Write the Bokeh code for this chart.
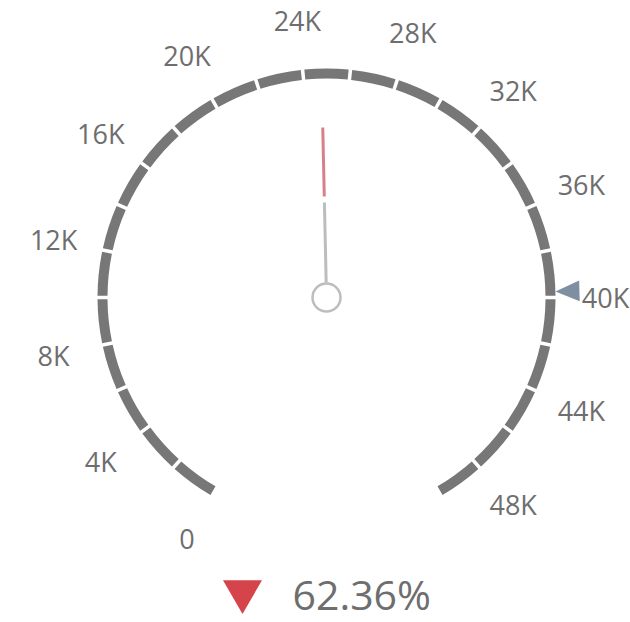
import math
from bokeh.plotting import figure
from bokeh.models import Range1d
from bokeh.core.properties import value as val
from bokeh.embed import file_html
from bokeh.resources import INLINE

# ---- data ----
scale_min = 0
scale_max = 50000
tick_values = [0, 4000, 8000, 12000, 16000, 20000, 24000, 28000, 32000, 36000, 40000, 44000, 48000]
tick_labels = ["0", "4K", "8K", "12K", "16K", "20K", "24K", "28K", "32K", "36K", "40K", "44K", "48K"]
segment_edges = [0, 2000, 4000, 6000, 8000, 10000, 12000, 14000, 16000, 18000, 20000, 22000, 24000,
                 26000, 28000, 30000, 32000, 34000, 36000, 38000, 40000, 42000, 44000, 46000, 48000, 50000]
gauge_value = 24790
target_value = 39750
percent_label = "62.36%"

# ---- geometry / style ----
START_DEG = 240.0
SWEEP_DEG = 300.0
R_IN, R_OUT = 219, 229
LABEL_R = 279
GAP = math.radians(0.9)
FONT = "Open Sans"
TXT = "#6e6e6e"


def ang(v):
    return math.radians(START_DEG - SWEEP_DEG * (v - scale_min) / (scale_max - scale_min))


W, H = 630, 622
CX, CY = 326, 297  # gauge centre in screen px
p = figure(width=W, height=H, output_backend="svg", toolbar_location=None,
           x_axis_type=None, y_axis_type=None, min_border=0,
           x_range=Range1d(-CX, W - CX), y_range=Range1d(CY - H, CY))
p.outline_line_color = None
p.grid.visible = False
p.background_fill_color = "white"

# dashed gauge band
starts, ends = [], []
for v0, v1 in zip(segment_edges[:-1], segment_edges[1:]):
    starts.append(ang(v1) + GAP / 2)
    ends.append(ang(v0) - GAP / 2)
n = len(starts)
p.annular_wedge(x=[0] * n, y=[0] * n, inner_radius=R_IN, outer_radius=R_OUT,
                start_angle=starts, end_angle=ends, direction="anticlock",
                fill_color="#777777", line_color=None)

# tick labels
lx = [LABEL_R * math.cos(ang(v)) for v in tick_values]
ly = [LABEL_R * math.sin(ang(v)) for v in tick_values]
p.text(x=lx, y=ly, text=tick_labels, text_align="center", text_baseline="middle",
       text_font=val(FONT), text_font_size="27px", text_color=TXT)

# target marker (triangle pointing inward)
ta = ang(target_value)
tip_r, base_r, half_w = R_OUT, R_OUT + 24, 10.5
ux, uy = math.cos(ta), math.sin(ta)
px_, py_ = -uy, ux
tri_x = [tip_r * ux, base_r * ux + half_w * px_, base_r * ux - half_w * px_]
tri_y = [tip_r * uy, base_r * uy + half_w * py_, base_r * uy - half_w * py_]
p.patch(tri_x, tri_y, fill_color="#7d8fa1", line_color=None)

# needle
na = ang(gauge_value)
p.line([15 * math.cos(na), 95 * math.cos(na)], [15 * math.sin(na), 95 * math.sin(na)],
       line_color="#bdbdbd", line_width=3)
p.line([101 * math.cos(na), 170 * math.cos(na)], [101 * math.sin(na), 170 * math.sin(na)],
       line_color="#d06a76", line_width=3, line_alpha=0.85)
p.scatter(x=[0], y=[0], size=28, marker="circle", fill_color="white",
          line_color="#bdbdbd", line_width=2.5)

# delta indicator
p.scatter(x=[242 - CX], y=[CY - 591], marker="inverted_triangle", size=39,
          fill_color="#d6444b", line_color=None)
p.text(x=[292 - CX], y=[CY - 593], text=[percent_label], text_align="left",
       text_baseline="middle", text_font=val(FONT), text_font_size="41px", text_color=TXT)

open("out.html", "w").write(file_html(p, INLINE))
